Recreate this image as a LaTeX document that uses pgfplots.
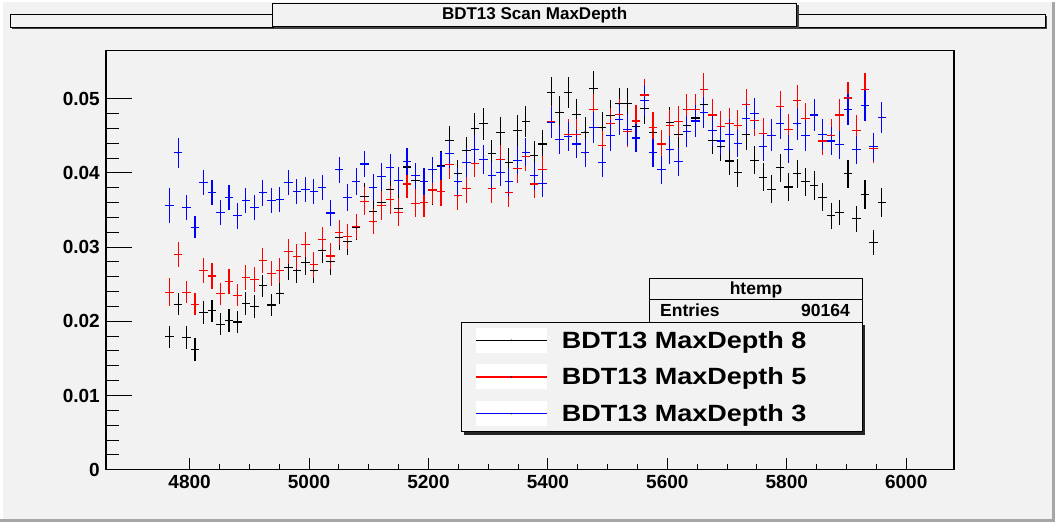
\documentclass[border=0pt]{standalone}
\usepackage{fontspec}
\setmainfont{Liberation Sans}
\usepackage{pgfplots}
\usepackage{pgfplotstable}
\pgfplotsset{compat=1.18}
\definecolor{canvas}{HTML}{F2F2F2}
\definecolor{rootred}{rgb}{1,0,0}
\definecolor{rootblue}{rgb}{0,0,1}

\pgfplotstableread{
x y e
4766.5 0.0179 0.0015
4780.7 0.0223 0.0015
4794.9 0.0178 0.0015
4809.1 0.0162 0.0015
4823.3 0.0212 0.0015
4837.5 0.0214 0.0015
4851.7 0.0196 0.0015
4865.9 0.0201 0.0015
4880.1 0.0199 0.0015
4894.3 0.0224 0.0015
4908.5 0.0220 0.0015
4922.7 0.0248 0.0015
4936.9 0.0222 0.0015
4951.1 0.0238 0.0015
4965.3 0.0272 0.0017
4979.5 0.0269 0.0017
4993.7 0.0279 0.0017
5007.9 0.0268 0.0017
5022.1 0.0296 0.0017
5036.3 0.0280 0.0017
5050.5 0.0313 0.0017
5064.7 0.0307 0.0017
5078.9 0.0326 0.0017
5093.1 0.0368 0.0019
5107.3 0.0348 0.0017
5121.5 0.0360 0.0019
5135.7 0.0378 0.0019
5149.9 0.0352 0.0019
5164.1 0.0408 0.0019
5178.3 0.0390 0.0019
5192.5 0.0388 0.0019
5206.7 0.0376 0.0019
5220.9 0.0410 0.0019
5235.1 0.0444 0.0019
5249.3 0.0399 0.0019
5263.5 0.0430 0.0019
5277.7 0.0460 0.0021
5291.9 0.0466 0.0021
5306.1 0.0426 0.0019
5320.3 0.0454 0.0021
5334.5 0.0414 0.0019
5348.7 0.0457 0.0021
5362.9 0.0469 0.0021
5377.1 0.0424 0.0019
5391.3 0.0439 0.0019
5405.5 0.0508 0.0021
5419.7 0.0482 0.0021
5433.9 0.0508 0.0021
5448.1 0.0479 0.0021
5462.3 0.0455 0.0021
5476.5 0.0514 0.0023
5490.7 0.0461 0.0021
5504.9 0.0477 0.0021
5519.1 0.0493 0.0021
5533.3 0.0493 0.0021
5547.5 0.0462 0.0021
5561.7 0.0487 0.0021
5575.9 0.0455 0.0021
5590.1 0.0439 0.0019
5604.3 0.0468 0.0021
5618.5 0.0452 0.0021
5632.7 0.0464 0.0021
5646.9 0.0474 0.0021
5661.1 0.0492 0.0021
5675.3 0.0444 0.0019
5689.5 0.0435 0.0019
5703.7 0.0416 0.0019
5717.9 0.0400 0.0019
5732.1 0.0452 0.0021
5746.3 0.0417 0.0019
5760.5 0.0394 0.0019
5774.7 0.0378 0.0019
5788.9 0.0407 0.0019
5803.1 0.0381 0.0019
5817.3 0.0399 0.0019
5831.5 0.0388 0.0019
5845.7 0.0383 0.0019
5859.9 0.0367 0.0019
5874.1 0.0342 0.0017
5888.3 0.0347 0.0017
5902.5 0.0399 0.0019
5916.7 0.0338 0.0017
5930.9 0.0371 0.0019
5945.1 0.0306 0.0017
5959.3 0.0360 0.0019
}\tblA

\pgfplotstableread{
x y e
4766.5 0.0239 0.0019
4780.7 0.0290 0.0017
4794.9 0.0239 0.0015
4809.1 0.0223 0.0015
4823.3 0.0268 0.0017
4837.5 0.0261 0.0017
4851.7 0.0237 0.0015
4865.9 0.0254 0.0017
4880.1 0.0235 0.0015
4894.3 0.0259 0.0017
4908.5 0.0256 0.0017
4922.7 0.0282 0.0017
4936.9 0.0264 0.0017
4951.1 0.0268 0.0017
4965.3 0.0294 0.0017
4979.5 0.0287 0.0017
4993.7 0.0304 0.0017
5007.9 0.0276 0.0017
5022.1 0.0310 0.0017
5036.3 0.0288 0.0017
5050.5 0.0320 0.0017
5064.7 0.0314 0.0017
5078.9 0.0328 0.0017
5093.1 0.0362 0.0019
5107.3 0.0334 0.0017
5121.5 0.0356 0.0019
5135.7 0.0364 0.0019
5149.9 0.0347 0.0019
5164.1 0.0385 0.0019
5178.3 0.0359 0.0019
5192.5 0.0360 0.0019
5206.7 0.0377 0.0019
5220.9 0.0375 0.0019
5235.1 0.0411 0.0019
5249.3 0.0369 0.0019
5263.5 0.0379 0.0019
5277.7 0.0413 0.0019
5291.9 0.0418 0.0019
5306.1 0.0379 0.0019
5320.3 0.0418 0.0019
5334.5 0.0373 0.0019
5348.7 0.0406 0.0019
5362.9 0.0422 0.0019
5377.1 0.0385 0.0019
5391.3 0.0404 0.0019
5405.5 0.0469 0.0021
5419.7 0.0445 0.0019
5433.9 0.0452 0.0021
5448.1 0.0452 0.0021
5462.3 0.0427 0.0019
5476.5 0.0486 0.0021
5490.7 0.0437 0.0019
5504.9 0.0467 0.0021
5519.1 0.0479 0.0021
5533.3 0.0456 0.0021
5547.5 0.0470 0.0021
5561.7 0.0505 0.0021
5575.9 0.0461 0.0021
5590.1 0.0439 0.0019
5604.3 0.0464 0.0021
5618.5 0.0469 0.0021
5632.7 0.0485 0.0021
5646.9 0.0486 0.0021
5661.1 0.0512 0.0023
5675.3 0.0478 0.0021
5689.5 0.0463 0.0021
5703.7 0.0467 0.0021
5717.9 0.0464 0.0021
5732.1 0.0492 0.0021
5746.3 0.0471 0.0021
5760.5 0.0453 0.0021
5774.7 0.0450 0.0021
5788.9 0.0489 0.0021
5803.1 0.0459 0.0021
5817.3 0.0497 0.0021
5831.5 0.0473 0.0021
5845.7 0.0478 0.0021
5859.9 0.0443 0.0019
5874.1 0.0451 0.0021
5888.3 0.0478 0.0021
5902.5 0.0501 0.0021
5916.7 0.0457 0.0021
5930.9 0.0512 0.0023
5945.1 0.0433 0.0019
5959.3 0.0475 0.0021
}\tblB

\pgfplotstableread{
x y e
4766.5 0.0356 0.0024
4780.7 0.0427 0.0020
4794.9 0.0353 0.0017
4809.1 0.0327 0.0015
4823.3 0.0387 0.0017
4837.5 0.0374 0.0017
4851.7 0.0347 0.0017
4865.9 0.0367 0.0017
4880.1 0.0342 0.0017
4894.3 0.0363 0.0017
4908.5 0.0353 0.0017
4922.7 0.0373 0.0017
4936.9 0.0363 0.0017
4951.1 0.0364 0.0017
4965.3 0.0387 0.0017
4979.5 0.0375 0.0017
4993.7 0.0378 0.0017
5007.9 0.0375 0.0017
5022.1 0.0380 0.0017
5036.3 0.0346 0.0017
5050.5 0.0404 0.0018
5064.7 0.0367 0.0018
5078.9 0.0388 0.0018
5093.1 0.0412 0.0018
5107.3 0.0380 0.0018
5121.5 0.0395 0.0018
5135.7 0.0407 0.0018
5149.9 0.0390 0.0018
5164.1 0.0415 0.0018
5178.3 0.0396 0.0018
5192.5 0.0388 0.0018
5206.7 0.0404 0.0018
5220.9 0.0409 0.0019
5235.1 0.0426 0.0019
5249.3 0.0388 0.0019
5263.5 0.0414 0.0019
5277.7 0.0432 0.0019
5291.9 0.0418 0.0019
5306.1 0.0396 0.0019
5320.3 0.0401 0.0019
5334.5 0.0388 0.0019
5348.7 0.0417 0.0019
5362.9 0.0428 0.0019
5377.1 0.0396 0.0019
5391.3 0.0386 0.0019
5405.5 0.0468 0.0021
5419.7 0.0445 0.0019
5433.9 0.0449 0.0019
5448.1 0.0439 0.0019
5462.3 0.0427 0.0019
5476.5 0.0461 0.0021
5490.7 0.0414 0.0019
5504.9 0.0450 0.0021
5519.1 0.0472 0.0021
5533.3 0.0458 0.0021
5547.5 0.0447 0.0019
5561.7 0.0498 0.0021
5575.9 0.0427 0.0019
5590.1 0.0404 0.0019
5604.3 0.0431 0.0019
5618.5 0.0415 0.0019
5632.7 0.0456 0.0021
5646.9 0.0470 0.0021
5661.1 0.0481 0.0021
5675.3 0.0457 0.0021
5689.5 0.0443 0.0019
5703.7 0.0452 0.0021
5717.9 0.0440 0.0019
5732.1 0.0473 0.0021
5746.3 0.0480 0.0021
5760.5 0.0435 0.0019
5774.7 0.0451 0.0021
5788.9 0.0467 0.0021
5803.1 0.0432 0.0019
5817.3 0.0466 0.0021
5831.5 0.0450 0.0021
5845.7 0.0478 0.0021
5859.9 0.0452 0.0021
5874.1 0.0443 0.0019
5888.3 0.0438 0.0019
5902.5 0.0486 0.0021
5916.7 0.0431 0.0019
5930.9 0.0491 0.0021
5945.1 0.0435 0.0019
5959.3 0.0475 0.0021
}\tblC

\begin{document}
\begin{tikzpicture}[x=1bp,y=1bp]
% canvas
\fill[canvas] (0,0) rectangle (1055,522);
\fill[white] (0,0) rectangle (2.5,522);
\fill[white] (0,519.5) rectangle (1055,522);
\fill[black!35] (0,0) rectangle (1055,3);
\fill[black!35] (1052,0) rectangle (1055,519.5);

\begin{axis}[
  at={(106bp,52.3bp)}, anchor=south west,
  scale only axis, width=848bp, height=419bp,
  xmin=4660, xmax=6080, ymin=0, ymax=0.05647,
  axis line style={line width=1.2bp, black},
  tick align=inside, xtick pos=bottom, ytick pos=left,
  xtick={4800,5000,5200,5400,5600,5800,6000},
  xticklabels={4800,5000,5200,5400,5600,5800,6000},
  ytick={0,0.01,0.02,0.03,0.04,0.05},
  yticklabels={0,0.01,0.02,0.03,0.04,0.05},
  scaled y ticks=false, scaled x ticks=false,
  minor x tick num=3, minor y tick num=4,
  xtick style={black, line width=1bp, /pgfplots/major tick length=12bp, /pgfplots/minor tick length=5.3bp},
  ytick style={black, line width=1bp, /pgfplots/major tick length=25.7bp, /pgfplots/minor tick length=12.7bp},
  xticklabel style={font=\fontsize{19bp}{22bp}\selectfont\bfseries, inner sep=0pt, anchor=north, yshift=-5bp},
  yticklabel style={font=\fontsize{19bp}{22bp}\selectfont\bfseries, inner sep=0pt, anchor=east, xshift=-6bp},
  clip=true,
]
\addplot[draw=black, only marks, mark=*, mark size=0.5bp, mark options={draw=black, fill=black},
  error bars/.cd, x dir=both, x fixed=7.1, y dir=both, y explicit, error mark=none,
  error bar style={line width=1.1bp, draw=black}]
  table[x=x, y=y, y error=e] {\tblA};
\addplot[draw=rootred, only marks, mark=*, mark size=0.5bp, mark options={draw=rootred, fill=rootred},
  error bars/.cd, x dir=both, x fixed=7.1, y dir=both, y explicit, error mark=none,
  error bar style={line width=1.1bp, draw=rootred}]
  table[x=x, y=y, y error=e] {\tblB};
\addplot[draw=rootblue, only marks, mark=*, mark size=0.5bp, mark options={draw=rootblue, fill=rootblue},
  error bars/.cd, x dir=both, x fixed=7.1, y dir=both, y explicit, error mark=none,
  error bar style={line width=1.1bp, draw=rootblue}]
  table[x=x, y=y, y error=e] {\tblC};
\end{axis}

% title bar
\fill[black!75] (12.2,493.0) rectangle (1046.5,506.3);
\filldraw[fill=canvas, draw=black, line width=0.9bp] (10.7,494.3) rectangle (1045,507.6);
\fill[black!75] (274.3,494.3) rectangle (798.6,517.3);
\filldraw[fill=canvas, draw=black, line width=0.9bp] (272.5,496) rectangle (796.8,519);
\node[anchor=base, inner sep=0pt] at (534.6,502) {\fontsize{17bp}{20bp}\selectfont\bfseries BDT13 Scan MaxDepth};

% stats box
\filldraw[fill=canvas, draw=black, line width=1bp] (649.3,185) rectangle (862,243);
\draw[black, line width=1bp] (649.3,222) -- (862,222);
\node[anchor=base, inner sep=0pt] at (756,227) {\fontsize{17.5bp}{20bp}\selectfont\bfseries htemp};
\node[anchor=base west, inner sep=0pt] at (660,205.3) {\fontsize{17.5bp}{20bp}\selectfont\bfseries Entries};
\node[anchor=base east, inner sep=0pt] at (850,205.3) {\fontsize{17.5bp}{20bp}\selectfont\bfseries 90164};

% legend
\fill[black!85] (464,87.3) rectangle (865.3,196.7);
\filldraw[fill=canvas, draw=black, line width=1bp] (461,90.3) rectangle (862.3,199.7);
\fill[white] (476,168.7) rectangle (546.7,193.7);
\fill[white] (476,132.7) rectangle (546.7,157.7);
\fill[white] (476,95.8) rectangle (546.7,121);
\draw[draw=black, line width=1.2bp] (476,181.7) -- (546.7,181.7);
\draw[draw=rootred, line width=1.2bp] (476,145) -- (546.7,145);
\draw[draw=rootblue, line width=1.2bp] (476,108.3) -- (546.7,108.3);
\fill[black] (511.3,181.7) circle (0.8);
\fill[black] (511.3,145) circle (0.8);
\fill[black] (511.3,108.3) circle (0.8);
\node[anchor=base west, inner sep=0pt, yscale=0.87, transform shape] at (561.7,173.7) {\fontsize{27bp}{30bp}\selectfont\bfseries BDT13 MaxDepth 8};
\node[anchor=base west, inner sep=0pt, yscale=0.87, transform shape] at (561.7,137) {\fontsize{27bp}{30bp}\selectfont\bfseries BDT13 MaxDepth 5};
\node[anchor=base west, inner sep=0pt, yscale=0.87, transform shape] at (561.7,100.3) {\fontsize{27bp}{30bp}\selectfont\bfseries BDT13 MaxDepth 3};
\end{tikzpicture}
\end{document}
